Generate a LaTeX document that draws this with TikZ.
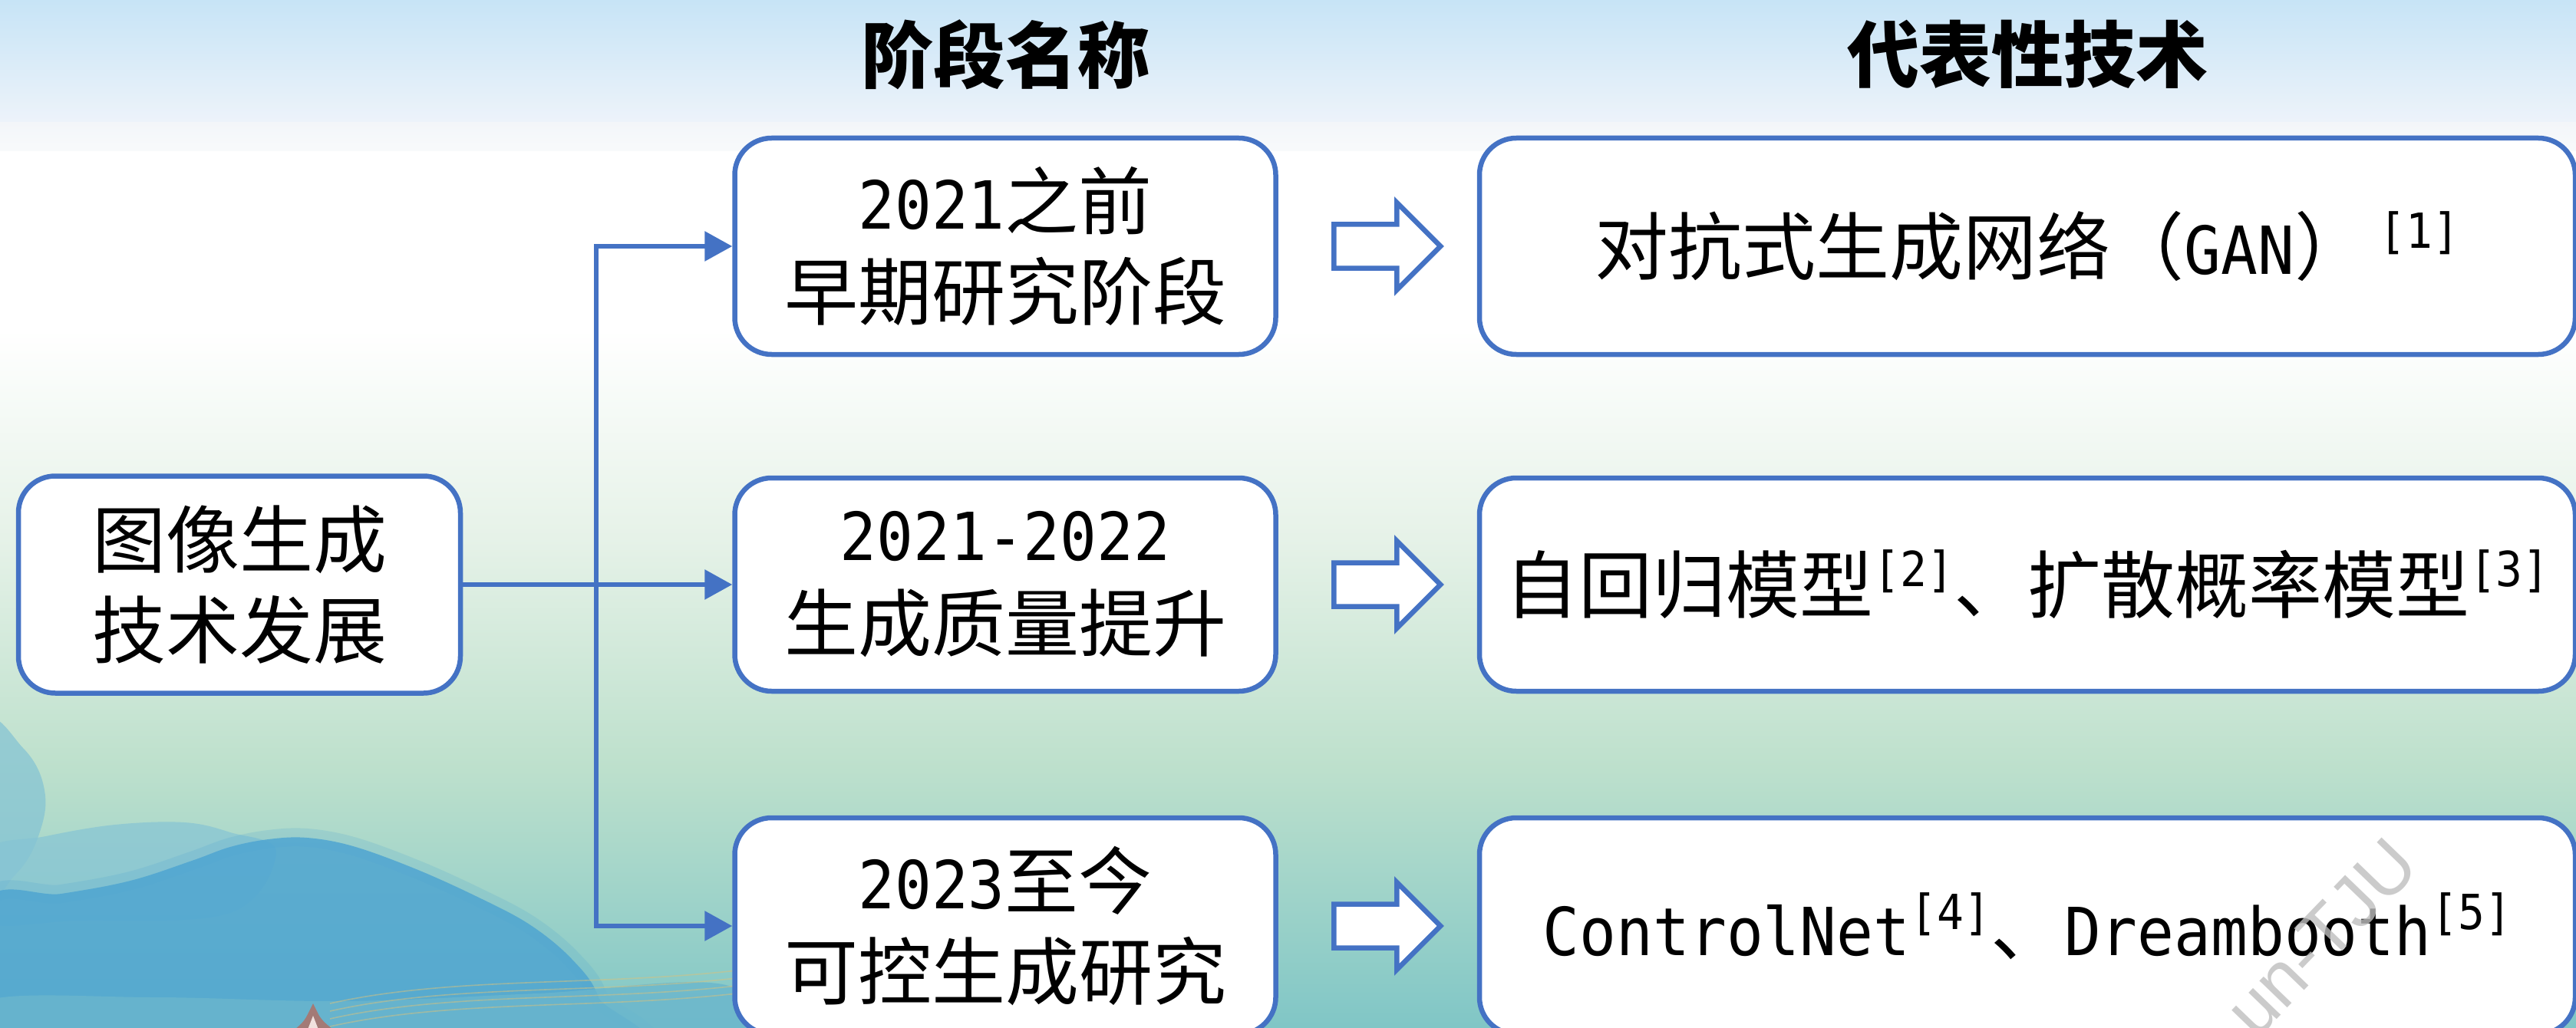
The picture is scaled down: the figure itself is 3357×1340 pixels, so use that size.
\documentclass[tikz,border=0pt]{standalone}
\usepackage{fontspec}
\setmainfont{Noto Sans CJK SC}
\newfontfamily\lat{DejaVu Sans Mono}[Scale=0.9,FakeStretch=0.92]
\newfontfamily\wmfont{Liberation Sans}
\usetikzlibrary{arrows.meta,calc}

\definecolor{boxblue}{HTML}{4472C4}
\definecolor{skytop}{HTML}{C7E4F6}
\definecolor{skylow}{HTML}{EDF3FA}
\definecolor{haze}{HTML}{F3F6F9}
\definecolor{mintlight}{HTML}{E6F2E8}
\definecolor{mint}{HTML}{BDE0CC}
\definecolor{teal}{HTML}{80C6C6}
\definecolor{mtnblue}{HTML}{4FA5D1}
\definecolor{mtnhaze}{HTML}{86C4D4}
\definecolor{shore}{HTML}{6AB6CD}
\definecolor{gold}{HTML}{D9C27C}
\definecolor{roof}{HTML}{B8685A}

% reference mark: small bracketed number set high
\newcommand\bibmark[1]{\raisebox{34pt}{\fontsize{70}{70}\selectfont\lat[#1]}}

\tikzset{
  box/.style={draw=boxblue, line width=6.5pt, fill=white, rounded corners=48pt,
    align=center, inner sep=0pt, font=\fontsize{96}{118}\selectfont},
  conn/.style={draw=boxblue, line width=6pt, -{Triangle[length=36pt,width=38pt]}},
  heading/.style={font=\fontsize{94}{100}\selectfont\bfseries, inner sep=0pt},
  blockarrow/.style={draw=boxblue, line width=6.5pt, fill=white, line join=miter},
  hollow arrow/.pic={
    \path[blockarrow] (-69,-28.5) -- (13,-28.5) -- (13,-57) -- (70,0)
      -- (13,57) -- (13,28.5) -- (-69,28.5) -- cycle;
  },
  watermark/.style={font=\wmfont\fontsize{95}{95}\selectfont, text=black!25, inner sep=0pt},
}

\begin{document}
\begin{tikzpicture}[x=1pt, y=-1pt]
\useasboundingbox (0,0) rectangle (3357,1340);
\clip (0,0) rectangle (3357,1340);

% ---- background: sky band, white middle, mint to teal below
\fill[white] (0,0) rectangle (3357,1340);
\shade[top color=skytop, bottom color=skylow] (0,0) rectangle (3357,160);
\shade[top color=haze, bottom color=haze!60!white] (0,160) rectangle (3357,197);
\shade[top color=white, bottom color=mintlight] (0,430) rectangle (3357,700);
\shade[top color=mintlight, bottom color=mint] (0,700) rectangle (3357,1000);
\shade[top color=mint, bottom color=teal] (0,1000) rectangle (3357,1340);

% ---- ink-wash hills in the lower left corner
\fill[mtnhaze, opacity=0.75] plot[smooth cycle, tension=0.7] coordinates
  {(-20,950) (30,975) (58,1030) (50,1090) (20,1140) (-20,1160)};
\fill[mtnhaze, opacity=0.7] plot[smooth cycle, tension=0.6] coordinates
  {(-20,1110) (60,1090) (150,1075) (240,1072) (300,1085) (360,1110) (300,1190) (100,1200) (-20,1200)};
\draw[mtnblue, line width=24pt, opacity=0.2] plot[smooth cycle, tension=0.6] coordinates
  {(-20,1178) (80,1165) (170,1148) (250,1122) (300,1104) (350,1094) (400,1092) (460,1103)
   (540,1132) (620,1168) (690,1205) (745,1250) (780,1300) (790,1380) (-20,1380)};
\fill[mtnblue, opacity=0.85] plot[smooth cycle, tension=0.6] coordinates
  {(-20,1178) (80,1165) (170,1148) (250,1122) (300,1104) (350,1094) (400,1092) (460,1103)
   (540,1132) (620,1168) (690,1205) (745,1250) (780,1300) (790,1380) (-20,1380)};
\fill[shore, opacity=0.8] plot[smooth cycle, tension=0.6] coordinates
  {(-20,1305) (200,1300) (450,1305) (700,1295) (950,1285) (1000,1380) (-20,1380)};
\foreach \dy in {0,10,20,30}
  \draw[gold, line width=1.6pt, opacity=0.5]
    (430,1338-\dy) .. controls (600,1300-\dy) and (800,1318-\dy) .. (1000,1290-\dy);
\fill[roof, opacity=0.75] (408,1308) -- (400,1324) .. controls (396,1332) and (390,1337) .. (384,1342)
  -- (434,1342) .. controls (428,1337) and (421,1332) .. (416,1324) -- cycle;
\fill[white!80!roof] (408,1324) -- (401,1342) -- (415,1342) -- cycle;

% ---- column headings
\node[heading] (h1) at (1310,71) {阶段名称};
\node[heading] (h2) at (2642,71) {代表性技术};

% ---- root box
\node[box, minimum width=576pt, minimum height=283pt] (root) at (312,762)
  {图像生成\\技术发展};

% ---- stage boxes
\node[box, minimum width=705pt, minimum height=282pt] (m1) at (1310,321)
  {{\lat 2021}之前\\早期研究阶段};
\node[box, minimum width=705pt, minimum height=278pt] (m2) at (1310,762)
  {{\lat 2021-2022}\\生成质量提升};
\node[box, minimum width=705pt, minimum height=282pt] (m3) at (1310,1207)
  {{\lat 2023}至今\\可控生成研究};

% ---- technique boxes
\node[box, minimum width=1428pt, minimum height=282pt] (r1) at (2642,321)
  {对抗式生成网络（{\lat GAN}）\hspace{14pt}\bibmark{1}};
\node[box, minimum width=1428pt, minimum height=278pt] (r2) at (2642,762)
  {自回归模型\bibmark{2}、扩散概率模型\bibmark{3}};
\node[box, minimum width=1428pt, minimum height=282pt] (r3) at (2642,1207)
  {{\lat ControlNet}\bibmark{4}、{\lat Dreambooth}\bibmark{5}};

% ---- branching connectors
\coordinate (trunk) at (777,762);
\draw[conn] (root.east) -- (m2.west);
\draw[conn] (trunk) |- (m1.west);
\draw[conn] (trunk) |- (m3.west);

% ---- hollow arrows from stage to technique
\pic at ($(m1.east)!0.5!(r1.west)+(12,0)$) {hollow arrow};
\pic at ($(m2.east)!0.5!(r2.west)+(12,0)$) {hollow arrow};
\pic at ($(m3.east)!0.5!(r3.west)+(12,0)$) {hollow arrow};

% ---- faint diagonal watermark
\node[watermark, rotate=46, opacity=0.8] (wm) at (3025,1222) {un-TJU};
\end{tikzpicture}
\end{document}
